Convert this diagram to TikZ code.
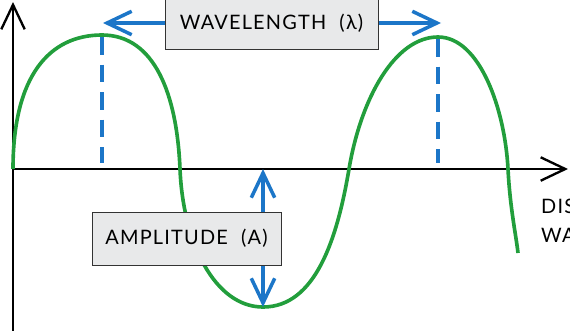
\documentclass[tikz,border=0pt]{standalone}
\usepackage{fontspec}
\setsansfont{Lato}[LetterSpace=6]
\usetikzlibrary{arrows.meta}
\definecolor{wavegreen}{RGB}{34,158,60}
\definecolor{markblue}{RGB}{28,118,200}
\definecolor{boxgray}{RGB}{232,233,234}

\begin{document}
\begin{tikzpicture}[x=0.03cm,y=-0.03cm,>={Straight Barb[length=21pt,width=20pt]},
  font=\sffamily\fontsize{17}{24}\selectfont]
\tikzstyle{axis}=[line width=2pt,black]
\tikzstyle{wave}=[line width=3.1pt,wavegreen,line join=round]
\tikzstyle{marker}=[line width=3pt,markblue]
\tikzstyle{peakline}=[marker,dash pattern=on 15pt off 8.5pt]
\tikzstyle{labelbox}=[draw=black!80,fill=boxgray,line width=0.8pt,inner sep=0pt,align=center]
\useasboundingbox (0,0) rectangle (570,330);
% axes
\coordinate (origin) at (13,169);
\coordinate (yfoot) at (13,332);
\coordinate (ytip) at (13,2);
\coordinate (xtip) at (568,169);
\draw[axis,->] (yfoot) -- (ytip);
\draw[axis,->] (origin) -- (xtip);
% the wave
\draw[wave] (origin) .. controls (13,75) and (50,35) .. (102,35)
  .. controls (155,35) and (177,95) .. (180,169)
  .. controls (183,243) and (215,307) .. (263,307)
  .. controls (315,307) and (337,240) .. (349,169)
  .. controls (361,98) and (395,37) .. (438,37)
  .. controls (480,37) and (505,110) .. (508,169)
  .. controls (510,208) and (516,235) .. (518,253);
% peaks, trough and arrow ends
\coordinate (crestA) at (102,37);
\coordinate (crestB) at (438,39);
\coordinate (footA) at (102,163);
\coordinate (footB) at (438,163);
\coordinate (lambdaL) at (103,23);
\coordinate (lambdaR) at (441,23);
\coordinate (ampTop) at (263,169);
\coordinate (trough) at (263,307);
\draw[peakline] (crestA) -- (footA);
\draw[peakline] (crestB) -- (footB);
\draw[marker,<->] (lambdaL) -- (lambdaR);
\draw[marker,<->] (ampTop) -- (trough);
% labels
\node[labelbox,minimum width=6.39cm,minimum height=1.56cm] (wavelength) at (271.5,23) {WAVELENGTH\hspace{0.35em} (λ)};
\node[labelbox,minimum width=5.67cm,minimum height=1.59cm] (amplitude) at (186.5,238.5) {AMPLITUDE\hspace{0.35em} (A)};
\node[anchor=base west,inner sep=0pt,align=left] (distance) at (541,242) {DIS\\WA};
\end{tikzpicture}
\end{document}
